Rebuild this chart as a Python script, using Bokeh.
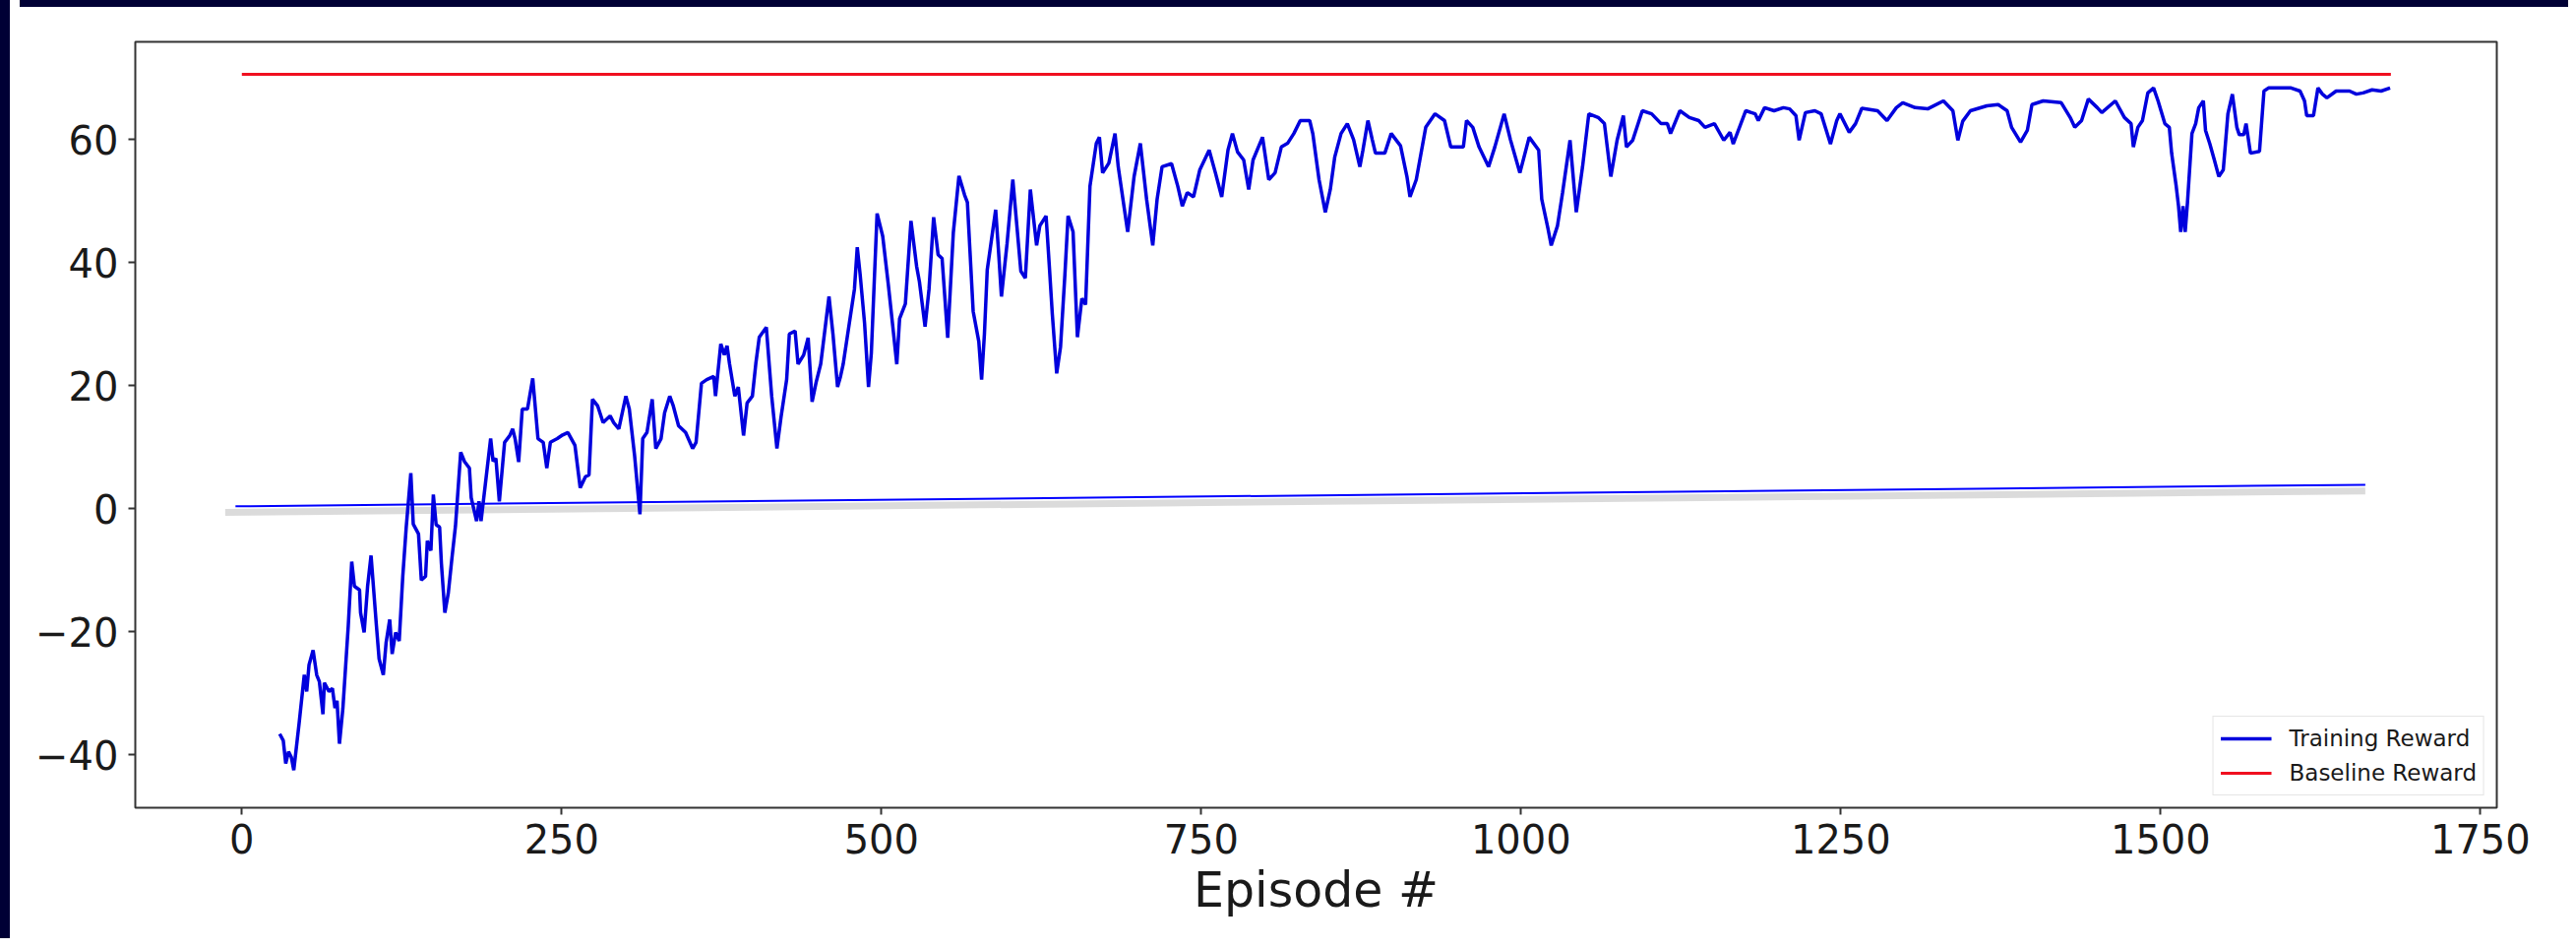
from bokeh.plotting import figure
from bokeh.models import Range1d, FixedTicker, Div
from bokeh.layouts import column, row
from bokeh.embed import file_html
from bokeh.resources import INLINE

# ---------------- data ----------------
episode = [
    29.6, 32.4, 34.3, 36.5, 38.7, 40.6, 44.7, 48.8, 50.7, 52.5, 55.7, 58.5, 60.6, 63.4, 64.5, 68.1, 70.8, 72.8, 74.4, 76.3,
    79.0, 83.2, 85.9, 88.0, 92.0, 92.8, 95.6, 98.3, 101.0, 105.2, 107.3, 110.6, 112.8, 115.6, 117.5, 120.2, 123.0, 125.8, 128.5, 132.1,
    134.0, 138.1, 140.3, 143.6, 145.0, 147.8, 149.7, 151.9, 154.6, 156.0, 158.7, 161.4, 164.2, 167.0, 171.1, 174.0, 177.9, 179.3, 183.5, 185.4,
    187.0, 190.3, 194.5, 196.4, 198.6, 201.3, 205.4, 209.5, 211.7, 213.6, 216.4, 219.2, 223.3, 227.4, 229.3, 231.5, 235.6, 238.4, 241.2, 246.6,
    250.8, 254.9, 260.4, 264.5, 268.6, 271.4, 274.1, 278.2, 282.4, 287.9, 290.7, 294.7, 300.2, 302.9, 307.0, 311.2, 313.4, 316.7, 320.8, 323.6,
    327.7, 330.5, 334.5, 337.3, 341.4, 346.9, 352.4, 355.1, 359.3, 363.4, 368.9, 370.3, 374.4, 377.2, 379.3, 381.2, 385.4, 388.1, 392.2, 395.0,
    399.1, 401.8, 404.5, 410.0, 414.2, 418.3, 421.5, 425.9, 428.0, 432.5, 434.8, 439.2, 442.7, 445.8, 448.9, 452.5, 459.0, 462.1, 465.7, 468.0,
    470.1, 474.5, 478.9, 481.1, 483.3, 486.8, 489.9, 492.1, 494.4, 496.6, 501.0, 505.4, 508.9, 512.0, 514.2, 518.7, 523.1, 527.5, 529.7, 534.1,
    537.2, 540.8, 544.3, 547.4, 551.8, 556.2, 560.6, 565.0, 567.2, 571.7, 576.1, 578.3, 580.5, 582.7, 589.3, 591.5, 593.8, 598.2, 602.7, 609.0,
    612.5, 616.4, 621.3, 623.8, 628.7, 631.2, 633.6, 637.0, 640.0, 643.4, 645.9, 649.8, 653.2, 656.7, 659.6, 663.0, 668.0, 670.4, 672.9, 677.8,
    682.6, 685.1, 692.5, 697.5, 702.4, 707.3, 712.1, 715.5, 719.4, 726.8, 731.7, 735.2, 739.1, 744.0, 748.9, 756.2, 761.1, 766.0, 770.9, 774.4,
    778.4, 783.2, 787.1, 790.5, 797.9, 802.8, 807.7, 812.6, 817.5, 822.4, 827.4, 834.8, 837.2, 842.1, 847.0, 850.9, 854.4, 859.3, 864.2, 869.1,
    874.0, 876.4, 880.3, 883.7, 886.2, 893.5, 898.5, 905.8, 910.8, 913.2, 918.1, 925.5, 932.8, 940.2, 945.1, 954.9, 957.4, 962.3, 967.2, 974.6,
    979.5, 986.8, 991.7, 999.1, 1006.4, 1013.8, 1016.2, 1021.1, 1023.6, 1028.5, 1032.5, 1038.3, 1043.2, 1048.1, 1053.0, 1060.3, 1065.2, 1070.2, 1075.1, 1080.0,
    1082.4, 1087.3, 1094.8, 1102.1, 1109.5, 1114.4, 1116.9, 1124.2, 1131.6, 1138.9, 1143.8, 1151.2, 1158.5, 1163.4, 1165.9, 1175.7, 1183.0, 1185.5, 1190.4, 1197.8,
    1205.1, 1210.0, 1214.9, 1217.4, 1222.3, 1229.7, 1234.6, 1241.9, 1246.8, 1249.3, 1256.6, 1261.5, 1266.4, 1278.7, 1286.1, 1293.4, 1298.4, 1308.1, 1317.9, 1330.2,
    1337.6, 1341.5, 1345.3, 1351.3, 1364.2, 1373.0, 1380.0, 1383.5, 1390.5, 1395.8, 1399.4, 1408.2, 1422.3, 1429.3, 1432.9, 1438.2, 1443.5, 1450.5, 1454.0, 1464.6,
    1471.7, 1476.9, 1478.7, 1482.2, 1485.8, 1490.0, 1494.5, 1498.0, 1503.3, 1506.8, 1508.6, 1512.2, 1514.0, 1515.7, 1517.5, 1519.2, 1521.0, 1524.5, 1527.4, 1529.8,
    1533.4, 1535.1, 1538.5, 1542.0, 1545.5, 1549.0, 1552.6, 1556.1, 1559.6, 1561.5, 1565.0, 1566.8, 1570.2, 1577.3, 1580.8, 1584.3, 1602.0, 1609.0, 1612.5, 1614.2,
    1619.5, 1623.0, 1626.5, 1630.0, 1637.2, 1647.7, 1653.0, 1658.3, 1665.3, 1672.3, 1679.4,
]
training_reward = [
    -36.6, -37.7, -41.4, -39.5, -40.4, -42.5, -35.0, -27.0, -29.7, -25.4, -23.0, -27.0, -28.1, -33.4, -28.3, -29.7, -29.2, -32.4, -31.2, -38.2,
    -32.4, -19.0, -8.6, -12.6, -13.2, -16.9, -20.1, -12.6, -7.6, -19.0, -24.4, -27.0, -21.7, -18.0, -23.6, -20.1, -21.5, -11.0, -3.0, 5.8,
    -2.5, -4.1, -11.6, -11.0, -5.2, -6.8, 2.3, -2.6, -3.0, -8.9, -16.9, -13.7, -8.1, -2.8, 9.2, 7.7, 6.6, 1.8, -2.0, 1.2,
    -2.0, 3.9, 11.4, 7.7, 8.2, 1.2, 10.8, 11.9, 13.0, 11.4, 7.6, 16.2, 16.2, 21.2, 16.7, 11.4, 10.8, 6.6, 10.8, 11.4,
    12.0, 12.4, 10.3, 3.4, 5.2, 5.5, 17.8, 16.7, 14.0, 15.1, 14.0, 13.0, 18.3, 16.2, 8.7, -0.9, 11.4, 12.4, 17.8, 9.8,
    11.4, 15.6, 18.3, 16.7, 13.5, 12.4, 9.8, 10.8, 20.4, 21.0, 21.5, 18.3, 26.8, 25.0, 26.5, 23.6, 18.3, 19.8, 11.9, 17.2,
    18.3, 23.6, 27.9, 29.5, 18.3, 9.8, 14.9, 21.0, 28.4, 28.9, 23.5, 25.0, 27.8, 17.4, 20.5, 23.5, 34.5, 28.4, 19.8, 21.5,
    23.5, 29.6, 35.7, 42.5, 38.2, 30.2, 19.8, 25.3, 37.0, 48.0, 44.3, 36.4, 29.6, 23.5, 30.9, 33.3, 46.8, 39.4, 36.9, 29.6,
    35.7, 47.4, 41.3, 40.7, 27.8, 44.9, 54.1, 51.0, 49.8, 32.1, 27.2, 21.0, 28.4, 38.8, 48.6, 42.0, 34.5, 43.1, 53.5, 38.6,
    37.5, 51.9, 42.8, 46.0, 47.6, 39.6, 31.6, 22.0, 26.3, 38.0, 47.6, 45.0, 27.9, 34.2, 33.2, 52.4, 59.4, 60.4, 54.6, 56.2,
    61.0, 55.6, 45.0, 54.0, 59.4, 50.3, 42.8, 50.3, 55.6, 56.1, 52.4, 49.2, 51.4, 50.7, 55.1, 58.3, 54.6, 50.7, 58.3, 61.0,
    58.0, 56.7, 51.9, 56.7, 60.4, 53.5, 54.6, 58.8, 59.4, 61.0, 63.1, 63.1, 61.0, 53.5, 48.2, 51.9, 57.2, 61.0, 62.6, 60.0,
    55.6, 58.3, 63.1, 60.0, 57.8, 57.8, 61.0, 59.0, 54.0, 50.7, 53.5, 62.0, 64.2, 63.1, 58.8, 58.8, 63.1, 62.0, 58.8, 55.6,
    58.8, 64.2, 60.0, 54.6, 60.4, 58.3, 50.3, 45.5, 42.8, 46.0, 51.4, 59.9, 48.2, 55.6, 64.2, 63.6, 62.6, 54.0, 59.9, 63.9,
    58.8, 59.9, 64.7, 64.2, 62.6, 62.6, 61.0, 64.7, 63.6, 63.1, 62.0, 62.6, 59.9, 61.2, 59.3, 64.7, 64.2, 63.1, 65.2, 64.7,
    65.2, 65.0, 63.9, 59.9, 64.4, 64.7, 64.2, 59.3, 63.1, 64.2, 61.2, 62.6, 65.1, 64.7, 63.1, 65.2, 66.0, 65.2, 65.0, 66.3,
    64.7, 59.9, 63.0, 64.7, 65.5, 65.7, 64.7, 62.0, 59.6, 61.5, 65.7, 66.3, 66.0, 63.6, 62.0, 63.1, 66.6, 65.2, 64.4, 66.3,
    63.6, 62.6, 58.8, 62.0, 63.1, 67.6, 68.4, 66.3, 62.6, 62.0, 57.8, 52.4, 49.2, 45.0, 49.2, 45.0, 49.8, 61.0, 62.6, 65.2,
    66.3, 61.5, 59.3, 56.7, 54.0, 55.1, 64.2, 67.4, 62.0, 60.8, 60.8, 62.6, 57.8, 58.1, 67.9, 68.4, 68.4, 67.9, 66.3, 63.9,
    63.9, 68.4, 67.4, 66.8, 67.9, 67.9, 67.4, 67.6, 68.1, 67.9, 68.4,
]
baseline_episode = [0, 1680]
baseline_reward = [70.6, 70.6]

# straight blue stroke drawn over the chart
stroke_episode = [-5, 1660]
stroke_reward = [0.4, 3.9]

x_ticks = [0, 250, 500, 750, 1000, 1250, 1500, 1750]
y_ticks = [-40, -20, 0, 20, 40, 60]
y_tick_labels = {-40: "\u221240", -20: "\u221220", 0: "0", 20: "20", 40: "40", 60: "60"}

FONT = "DejaVu Sans"
NAVY = "#000035"

p = figure(
    frame_width=2400, frame_height=778,
    output_backend="svg", toolbar_location=None,
    x_range=Range1d(-83.3, 1762.8), y_range=Range1d(-48.6, 75.9),
    min_border_left=122, min_border_top=30, min_border_right=68, min_border_bottom=134,
    background_fill_color="white", border_fill_color="white",
)
p.grid.visible = False
p.outline_line_color = "#333333"
p.outline_line_width = 2

for ax in (p.xaxis[0], p.yaxis[0]):
    ax.axis_line_color = None
    ax.major_tick_line_color = "#333333"
    ax.major_tick_line_width = 2
    ax.major_tick_out = 7
    ax.major_tick_in = 0
    ax.minor_tick_line_color = None
    ax.major_label_text_font = FONT
    ax.major_label_text_font_size = "40px"
    ax.major_label_text_color = "#1a1a1a"

p.xaxis.ticker = FixedTicker(ticks=x_ticks)
p.yaxis.ticker = FixedTicker(ticks=y_ticks)
p.yaxis.major_label_overrides = y_tick_labels
p.xaxis.major_label_standoff = 9
p.yaxis.major_label_standoff = 10
p.xaxis.axis_label = "Episode #"
p.xaxis.axis_label_text_font = FONT
p.xaxis.axis_label_text_font_size = "49px"
p.xaxis.axis_label_text_font_style = "normal"
p.xaxis.axis_label_text_color = "#1a1a1a"
p.xaxis.axis_label_standoff = 6

# shadow of the straight stroke
shadow_y = [v - 1.0 for v in stroke_reward]
p.line([stroke_episode[0] - 8, stroke_episode[1]], shadow_y, line_color="#d2d2d2", line_width=7, line_alpha=0.8)
p.line(stroke_episode, stroke_reward, line_color="#0000ff", line_width=2)

p.line(episode, training_reward, line_color="#0000dd", line_width=3.5, legend_label="Training Reward")
p.line(baseline_episode, baseline_reward, line_color="#f01020", line_width=3, legend_label="Baseline Reward")

lg = p.legend[0]
lg.location = "bottom_right"
lg.margin = 12
lg.padding = 7
lg.spacing = 5
lg.glyph_width = 52
lg.glyph_height = 30
lg.label_standoff = 18
lg.label_height = 30
lg.label_text_font = FONT
lg.label_text_font_size = "23px"
lg.label_text_color = "#1a1a1a"
lg.border_line_color = "#cccccc"
lg.border_line_width = 1.5
lg.background_fill_alpha = 0.8

left_band = Div(text="", width=13, height=956, styles={"background-color": NAVY})
top_band = Div(text="", width=2590, height=10, styles={"background-color": NAVY})
root = row(left_band, column(top_band, p), styles={"margin-left": "-8px", "margin-top": "-8px"})

open("out.html", "w").write(file_html(root, INLINE))
